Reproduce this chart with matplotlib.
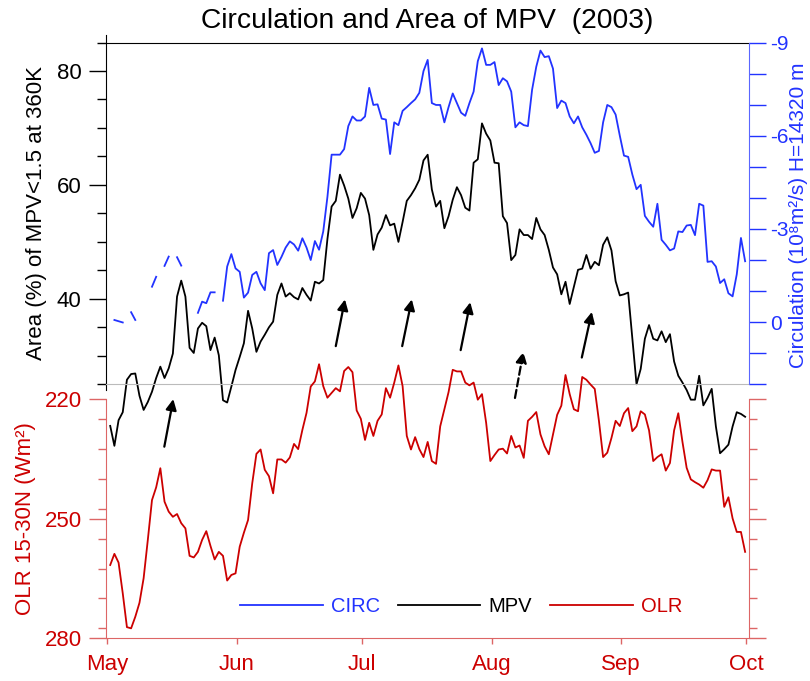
import numpy as np
import matplotlib.pyplot as plt
from matplotlib.ticker import FixedLocator, MultipleLocator

plt.rcParams['font.family'] = ['Liberation Sans', 'DejaVu Sans']
plt.rcParams['axes.unicode_minus'] = False

nan = np.nan

# daily values, 1 May .. 30 Sep 2003
mpv = [17.7, 14.2, 18.7, 20.1, 25.8, 26.8, 26.9, 23.0, 20.5, 21.9, 23.7, 26.1, 28.1, 26.1, 27.8, 30.4,
       40.4, 43.2, 40.4, 31.4, 30.5, 34.8, 35.8, 35.2, 31.0, 33.2,
       30.1, 22.2, 21.8, 24.6, 27.5, 29.8, 32.2, 37.9, 34.8, 30.7, 32.5, 33.7, 35.0, 36.0, 40.7, 42.7,
       40.4, 41.0, 40.3, 39.9, 41.9, 40.7, 39.7, 43.0, 42.7,
       43.3, 50.5, 56.2, 57.2, 61.8, 59.9, 57.6, 54.2, 55.9, 58.6, 57.6, 54.7, 48.6, 51.3, 52.5, 54.7,
       52.9, 53.2, 50.0, 53.5, 57.2, 58.2, 59.4, 60.9, 64.3,
       65.3, 59.2, 56.2, 57.2, 52.4, 54.5, 57.4, 59.6, 58.2, 56.0, 55.5, 63.9, 64.5, 70.8, 69.0, 67.8,
       63.9, 63.8, 54.5, 53.3, 46.8, 47.7, 52.2, 51.2, 51.2,
       50.5, 54.2, 52.2, 51.2, 48.6, 45.5, 44.3, 40.8, 43.0, 39.1, 42.1, 45.1, 45.3, 47.7, 45.3, 46.5,
       45.9, 49.5, 50.8, 48.5, 43.1, 40.6, 40.8, 41.1, 33.0,
       25.0, 27.7, 33.0, 35.4, 33.0, 32.7, 34.3, 32.4, 33.8, 29.0, 26.5, 25.3, 24.0, 22.3, 22.3, 26.5,
       21.3, 22.6, 24.2, 17.6, 12.9, 13.6, 14.4, 17.6, 20.1, 19.8, 19.3]

circ = [nan, -0.07, -0.03, 0.01, nan, -0.32, -0.07, nan, nan, nan, -1.14, -1.46, nan, -1.81, -2.11, nan,
        -2.09, -1.82, nan, nan, nan, -0.30, -0.66, -0.61, -0.96, -0.96,
        nan, -0.69, -1.79, -2.19, -1.73, -1.62, -0.79, -0.95, -1.52, -1.62, -1.25, -1.03, -2.22, -2.32,
        -1.84, -2.1, -2.4, -2.6, -2.5, -2.3, -2.7, -2.4, -2.0, -2.61, -2.33,
        -2.92, -4.03, -5.39, -5.39, -5.39, -5.57, -6.31, -6.62, -6.49, -6.49, -6.62, -7.54, -6.99, -7.01,
        -6.55, -6.52, -5.41, -6.43, -6.34, -6.80, -6.92, -7.05, -7.17, -7.38, -8.08,
        -8.44, -7.05, -6.99, -6.99, -6.43, -6.92, -7.36, -7.05, -6.74, -6.64, -7.05, -7.42, -8.40, -8.81,
        -8.28, -8.28, -8.37, -7.63, -7.85, -7.75, -7.42, -6.27, -6.43, -6.34, -6.31,
        -7.48, -8.22, -8.74, -8.53, -8.56, -8.16, -6.89, -7.13, -7.05, -6.62, -6.40, -6.62, -6.27, -6.03,
        -5.76, -5.45, -5.51, -6.43, -6.99, -6.92, -6.68, -6.00, -5.36, -5.32, -4.75,
        -4.28, -4.42, -3.42, -3.23, -3.07, -3.81, -2.65, -2.49, -2.31, -2.37, -2.92, -2.90, -3.11, -3.13,
        -2.80, -3.81, -3.75, -1.94, -1.96, -1.79, -1.26, -1.38, -0.93, -0.83, -1.54, -2.71, -1.96]

olr = [261.6, 258.8, 261.0, 268.7, 277.2, 277.5, 274.6, 271.1, 264.9, 255.3, 245.3, 242.1, 237.3, 245.7,
       248.2, 249.5, 248.8, 251.1, 252.4, 259.3, 259.7, 258.3, 255.3, 253.1, 256.8, 260.2,
       258.3, 259.3, 265.5, 264.1, 263.7, 257.0, 253.5, 250.3, 241.1, 233.7, 232.6, 237.7, 239.3, 243.6,
       235.1, 235.1, 235.9, 234.6, 231.2, 232.5, 227.7, 223.4, 216.8, 215.5, 211.2,
       216.7, 219.6, 218.4, 217.2, 218.0, 212.9, 211.9, 213.2, 222.8, 224.9, 230.2, 225.9, 229.2, 225.4,
       223.8, 217.2, 219.6, 215.8, 211.5, 216.7, 229.2, 232.6, 229.5, 232.5, 234.5,
       230.7, 235.5, 236.2, 226.8, 222.5, 218.2, 212.6, 213.0, 213.0, 215.8, 216.5, 215.8, 220.1, 218.7,
       225.9, 235.5, 234.0, 232.6, 232.4, 233.6, 229.2, 232.1, 231.6, 234.7, 225.4,
       224.4, 223.2, 228.8, 231.8, 233.8, 228.8, 223.9, 221.6, 213.9, 218.7, 222.5, 223.0, 214.4, 215.1,
       216.3, 217.4, 225.4, 234.5, 233.4, 229.7, 225.4, 226.7, 223.5, 222.2, 228.0,
       226.8, 223.0, 223.8, 227.8, 235.5, 234.5, 233.8, 237.9, 236.0, 227.8, 223.5, 230.7, 237.2, 240.1,
       240.8, 241.4, 242.2, 240.3, 237.6, 237.9, 237.9, 247.0, 244.6, 249.9, 253.3, 253.3, 258.3]

month_days = [0, 31, 61, 92, 123, 153]
month_names = ['May', 'Jun', 'Jul', 'Aug', 'Sep', 'Oct']

# arrows drawn on the MPV scale (day, area %)
arrow_x0 = [13.65, 54.7, 70.6, 84.6, 97.6, 113.6]
arrow_x1 = [15.8, 56.9, 72.9, 86.9, 99.6, 116.0]
arrow_y0 = [14.05, 31.7, 31.7, 31.0, 22.6, 29.7]
arrow_y1 = [22.4, 39.9, 39.9, 39.4, 30.7, 37.7]
arrow_dashed = [False, False, False, False, True, False]

days = np.arange(len(mpv)) + 0.7

BLUE = '#2233ff'
RED = '#cc0000'
W, H = 810, 681


def box(l, t, r, b):
    return [l / W, 1 - b / H, (r - l) / W, (b - t) / H]


fig = plt.figure(figsize=(W / 100, H / 100), dpi=100)
ax1 = fig.add_axes(box(106, 42.5, 749.3, 384.3))
ax2 = fig.add_axes(box(106, 399.3, 749.3, 638.3))
ax1r = ax1.twinx()
ax2r = ax2.twinx()
for a in (ax1, ax2, ax1r, ax2r):
    a.patch.set_visible(False)
    a.set_xlim(-0.31, 153.7)

# upper panel: MPV area (left) and circulation (right)
ax1.set_ylim(25, 85)
ax1.yaxis.set_major_locator(FixedLocator([40, 60, 80]))
ax1.yaxis.set_minor_locator(MultipleLocator(5))
ax1.tick_params(axis='y', which='major', length=12.5, width=1, labelsize=16, pad=5)
ax1.tick_params(axis='y', which='minor', length=6.5, width=1)
ax1.tick_params(axis='x', bottom=False, labelbottom=False)
ax1.spines['right'].set_visible(False)
ax1.spines['bottom'].set_color('#bbbbbb')
ax1.spines['left'].set_bounds(24, 86.3)

ax1r.set_ylim(2, -9)
ax1r.yaxis.set_major_locator(FixedLocator([-9, -6, -3, 0]))
ax1r.set_yticklabels(['-9', '-6', '-3', '0'])
ax1r.yaxis.set_minor_locator(MultipleLocator(1))
ax1r.tick_params(axis='y', which='both', length=12, width=1, colors=BLUE, labelsize=15, pad=3)
for s in ('left', 'top', 'bottom'):
    ax1r.spines[s].set_visible(False)
ax1r.spines['right'].set_color('#5a66ff')

# lower panel: OLR
ax2.set_ylim(280, 220)
ax2.yaxis.set_major_locator(FixedLocator([220, 250, 280]))
ax2.yaxis.set_minor_locator(MultipleLocator(7.5))
ax2.tick_params(axis='y', which='major', length=12.5, width=1, colors='#dd6666', labelcolor=RED,
                labelsize=16, pad=5)
ax2.tick_params(axis='y', which='minor', length=6, width=1, colors='#dd6666')
ax2.set_xticks(month_days)
ax2.set_xticklabels(month_names)
ax2.tick_params(axis='x', length=4, width=1, colors='#dd6666', labelcolor=RED, labelsize=16, pad=7)
ax2.spines['top'].set_visible(False)
for s in ('left', 'right', 'bottom'):
    ax2.spines[s].set_color('#dd6666')

ax2r.set_ylim(280, 220)
ax2r.yaxis.set_major_locator(FixedLocator([220, 250, 280]))
ax2r.yaxis.set_minor_locator(MultipleLocator(7.5))
ax2r.tick_params(axis='y', which='major', length=12.5, width=1, colors='#dd6666', labelright=False)
ax2r.tick_params(axis='y', which='minor', length=6, width=1, colors='#dd6666')
for s in ('left', 'top', 'bottom', 'right'):
    ax2r.spines[s].set_visible(False)

l_circ, = ax1r.plot(days, circ, color=BLUE, lw=1.3, clip_on=False, label='CIRC')
l_mpv, = ax1.plot(days, mpv, color='black', lw=1.3, clip_on=False, label='MPV')
l_olr, = ax2.plot(days, olr, color=RED, lw=1.3, clip_on=False, label='OLR')

for x0, x1, y0, y1, dash in zip(arrow_x0, arrow_x1, arrow_y0, arrow_y1, arrow_dashed):
    ax1.annotate('', xy=(x1, y1), xytext=(x0, y0), annotation_clip=False,
                 arrowprops=dict(arrowstyle='-|>', color='black', lw=1.6, mutation_scale=16,
                                 linestyle='--' if dash else '-', shrinkA=0, shrinkB=0))

ax2.legend(handles=[l_circ, l_mpv, l_olr], loc='center', bbox_to_anchor=(0.552, 0.131), ncol=3,
           frameon=False, fontsize=14.5, handlelength=4.1, handletextpad=0.4, columnspacing=0.9,
           labelcolor='linecolor', borderpad=0, borderaxespad=0)

fig.text(427.5 / W, 1 - 21 / H, 'Circulation and Area of MPV  (2003)', ha='center', va='center',
         fontsize=20.3)
fig.text(37 / W, 1 - 213.4 / H, 'Area (%) of MPV<1.5 at 360K', rotation=90, ha='center',
         va='center', fontsize=16)
fig.text(26 / W, 1 - 518.7 / H, 'OLR 15-30N (Wm²)', rotation=90, ha='center', va='center',
         fontsize=16, color=RED)
fig.text(798.5 / W, 1 - 215 / H, 'Circulation (10⁸m²/s) H=14320 m', rotation=90,
         ha='center', va='center', fontsize=15, color=BLUE)

fig.savefig('out.png', dpi=100)
